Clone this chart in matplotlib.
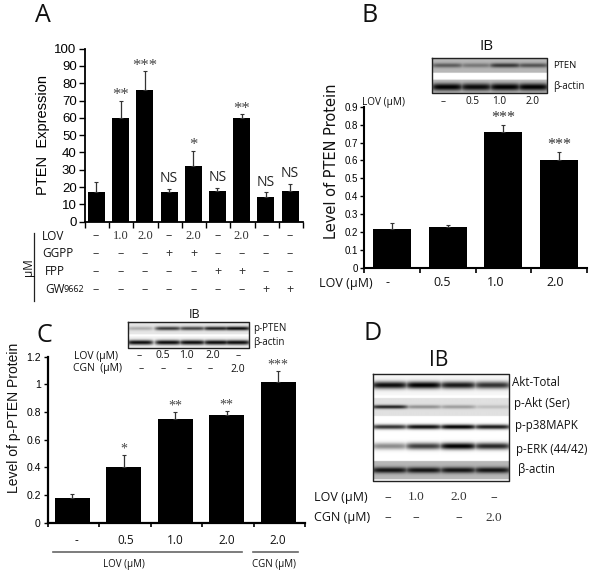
import numpy as np
import matplotlib
matplotlib.use("Agg")
import matplotlib.pyplot as plt

plt.rcParams['font.family'] = ['Liberation Sans', 'DejaVu Sans']
W, H = 601, 577

# ---- data ----
a_values = [17, 60, 76, 17, 32, 18, 60, 14, 18]
a_errors = [6, 10, 11, 2, 9, 1.5, 2, 3, 4]
a_marks = ['', '**', '***', 'NS', '*', 'NS', '**', 'NS', 'NS']
a_lov = ['–', '1.0', '2.0', '–', '2.0', '–', '2.0', '–', '–']
a_ggpp = ['–', '–', '–', '+', '+', '–', '–', '–', '–']
a_fpp = ['–', '–', '–', '–', '–', '+', '+', '–', '–']
a_gw = ['–', '–', '–', '–', '–', '–', '–', '+', '+']
a_ticks = list(range(0, 101, 10))

b_labels = ['-', '0.5', '1.0', '2.0']
b_values = [0.22, 0.23, 0.76, 0.60]
b_errors = [0.03, 0.01, 0.04, 0.05]
b_marks = ['', '', '***', '***']
b_ticks = [0, .1, .2, .3, .4, .5, .6, .7, .8, .9]
b_ticklabels = ['0', '0.1', '0.2', '0.3', '0.4', '0.5', '0.6', '0.7', '0.8', '0.9']

c_labels = ['-', '0.5', '1.0', '2.0', '2.0']
c_values = [0.18, 0.40, 0.75, 0.78, 1.02]
c_errors = [0.03, 0.09, 0.05, 0.03, 0.08]
c_marks = ['', '*', '**', '**', '***']
c_ticks = [0, .2, .4, .6, .8, 1, 1.2]
c_ticklabels = ['0', '0.2', '0.4', '0.6', '0.8', '1', '1.2']

# blot band intensities per lane (0 none .. 1 black)
b_blot_pten = [0.50, 0.35, 0.70, 0.55]
b_blot_actin = [1.0, 0.95, 1.0, 1.0]
c_blot_pten = [0.25, 0.75, 0.70, 0.85, 0.95]
c_blot_actin = [0.95, 0.95, 0.95, 0.95, 0.95]
d_akt = [0.95, 1.0, 0.9, 0.8]
d_pakt = [0.85, 0.35, 0.3, 0.15]
d_p38 = [0.8, 0.95, 1.0, 0.9]
d_erk = [0.45, 0.75, 1.0, 0.85]
d_actin = [0.9, 0.9, 0.9, 0.9]


def fig_ax(l, r, top, bottom):
    return fig.add_axes([l / W, 1 - bottom / H, (r - l) / W, (bottom - top) / H])


def style(ax, lw=1.5):
    for s in ('top', 'right'):
        ax.spines[s].set_visible(False)
    for s in ('left', 'bottom'):
        ax.spines[s].set_linewidth(lw)
    ax.patch.set_alpha(0)


def blot(box, rows, lanes, base=1.0):
    """rows: (centre, sigma, lane values, local background)"""
    l, r, t, b = box
    h, w = int(b - t) * 3, int(r - l) * 3
    img = np.full((h, w), base)
    yy, xx = np.mgrid[0:h, 0:w]
    xf = xx / w
    yp = yy / 3 + t
    n = len(lanes)
    for cy, sig, vals, bg, span in rows:
        inside = np.abs(yp - cy) <= span
        img[inside] = bg
        lane = np.zeros_like(xf)
        for i, v in enumerate(vals):
            lane = np.maximum(lane, v * np.exp(-((xf - lanes[i]) / (0.55 / n)) ** 6))
        img -= lane * np.exp(-((yp - cy) / sig) ** 2) * bg
    ov.imshow(np.clip(img, 0, 1), cmap='gray', vmin=0, vmax=1, extent=(l, r, b, t),
              aspect='auto', interpolation='bilinear', zorder=2)
    ov.plot([l, r, r, l, l], [t, t, b, b, t], color='#222222', lw=1.0, zorder=3)


fig = plt.figure(figsize=(W / 100, H / 100), dpi=100, facecolor='white')
ov = fig.add_axes([0, 0, 1, 1], zorder=5)
ov.set_xlim(0, W)
ov.set_ylim(H, 0)
ov.axis('off')
ov.patch.set_alpha(0)


def T(x, y, s, size=8, ha='center', rot=0, fam=None, color='#111111', va='center'):
    kw = {'family': fam} if fam else {}
    ov.text(x, y, s, fontsize=size, ha=ha, va=va, rotation=rot, color=color, **kw)


MY = ['Open Sans', 'DejaVu Sans']
SER = ['Liberation Serif', 'DejaVu Serif']

for x, y, s in [(43, 16, 'A'), (370, 16, 'B'), (44, 335, 'C'), (373, 334, 'D')]:
    T(x, y, s, 18, fam=MY)

# ---- panel A ----
axA = fig_ax(85, 303, 48.7, 221.7)
style(axA, 1.3)
xa = np.arange(len(a_values))
axA.bar(xa, a_values, width=0.7, color='black')
axA.errorbar(xa, a_values, yerr=[np.zeros(len(a_errors)), a_errors], fmt='none',
             ecolor='#333333', elinewidth=0.9, capsize=1.5, capthick=0.8)
axA.set_xlim(-0.47, 8.47)
axA.set_ylim(0, 100)
axA.set_yticks(a_ticks)
axA.tick_params(axis='y', labelsize=9.5, length=4, width=1, pad=2)
axA.set_xticks(np.arange(-0.47, 8.6, 1.0))
axA.set_xticklabels([])
axA.tick_params(axis='x', length=4, width=1, direction='out')
axA.set_ylabel('PTEN  Expression', fontsize=10.5, labelpad=3)
for i, m in enumerate(a_marks):
    top = a_values[i] + a_errors[i]
    if m == 'NS':
        axA.text(i, top + 1.5, m, ha='center', va='bottom', fontsize=10, family=MY, color='#222222')
    elif m:
        axA.text(i, top - 1.5, m, ha='center', va='bottom', fontsize=12, family=SER, color='#444444')

col_x = [96, 120.5, 145, 169, 193.5, 217.5, 241.5, 266, 290]
for y, name, vals, nx in [(236, 'LOV', a_lov, 42), (253.5, 'GGPP', a_ggpp, 42),
                          (271.5, 'FPP', a_fpp, 45), (289.5, 'GW', a_gw, 45)]:
    T(nx, y, name, 8.5, ha='left', fam=MY)
    for x, v in zip(col_x, vals):
        T(x, y, v, 9, fam=SER if v[0].isdigit() else MY, color='#333333')
T(63.5, 289.8, '9662', 6.5, ha='left', fam=MY)
T(28, 267, 'µM', 8.5, rot=90, fam=MY)
ov.plot([34, 34], [233, 301], color='#222222', lw=0.9)

# ---- panel B ----
axB = fig_ax(364.3, 586.7, 106.7, 268)
style(axB, 1.5)
xb = np.arange(len(b_values))
axB.bar(xb, b_values, width=0.68, color='black')
axB.errorbar(xb, b_values, yerr=[np.zeros(4), b_errors], fmt='none', ecolor='#333333',
             elinewidth=0.9, capsize=1.5, capthick=0.8)
axB.set_xlim(-0.5, 3.5)
axB.set_ylim(0, 0.9)
axB.set_yticks(b_ticks)
axB.set_yticklabels(b_ticklabels)
axB.tick_params(axis='y', labelsize=7, length=3, width=1, pad=1.5)
axB.set_xticks(np.arange(-0.5, 3.6, 1))
axB.set_xticklabels([])
axB.tick_params(axis='x', length=3.5, width=1.2)
T(331.5, 161, 'Level of PTEN Protein', 10.5, rot=90, fam=['DejaVu Sans'])
for i, m in enumerate(b_marks):
    if m:
        axB.text(i, b_values[i] + b_errors[i] - 0.01, m, ha='center', va='bottom', fontsize=11.5,
                 family=SER, color='#333333')
T(346, 283, 'LOV (µM)', 9, fam=MY)
for x, s in zip([387.5, 442.5, 496, 555], b_labels):
    T(x, 283, s, 9, fam=MY)

blot((431.7, 546.7, 58, 92.7),
     [(65, 2.2, b_blot_pten, 0.72, 7), (86, 3.6, b_blot_actin, 0.75, 7)],
     [0.13, 0.38, 0.63, 0.87])
T(487, 47, 'IB', 11, fam=MY)
T(553.5, 66, 'PTEN', 6.8, ha='left', fam=MY)
T(553.5, 86, 'β-actin', 7, ha='left', fam=MY)
T(383, 102, 'LOV (µM)', 7.2, fam=MY)
for x, s in zip([443.5, 472, 499, 533], ['–', '0.5', '1.0', '2.0']):
    T(x, 102, s, 7.2, fam=MY)

# ---- panel C ----
axC = fig_ax(47.7, 305, 356.7, 522.7)
style(axC, 1.6)
xc = np.arange(len(c_values))
axC.bar(xc, c_values, width=0.68, color='black')
axC.errorbar(xc, c_values, yerr=[np.zeros(5), c_errors], fmt='none', ecolor='#333333',
             elinewidth=0.9, capsize=1.5, capthick=0.8)
axC.set_xlim(-0.48, 4.52)
axC.set_ylim(0, 1.2)
axC.set_yticks(c_ticks)
axC.set_yticklabels(c_ticklabels)
axC.tick_params(axis='y', labelsize=7.5, length=3, width=1, pad=2)
axC.set_xticks(np.arange(-0.48, 4.6, 1))
axC.set_xticklabels([])
axC.tick_params(axis='x', length=3, width=1.2)
T(14, 418, 'Level of p-PTEN Protein', 10, rot=90)
for i, m in enumerate(c_marks):
    axC.text(i, c_values[i] + c_errors[i] - 0.005, m, ha='center', va='bottom', fontsize=10,
             family=SER, color='#444444')
for x, s in zip([76, 126, 175, 227, 278], c_labels):
    T(x, 541, s, 8.5, fam=MY)
ov.plot([53, 242], [552, 552], color='#666666', lw=1.2)
ov.plot([253, 298], [552, 552], color='#666666', lw=1.2)
T(124, 565, 'LOV (µM)', 7, fam=MY)
T(274, 565, 'CGN (µM)', 7, fam=MY)

blot((128, 249, 321.7, 347.7),
     [(328, 1.9, c_blot_pten, 0.9, 6), (342, 2.4, c_blot_actin, 0.95, 6)],
     [0.1, 0.33, 0.53, 0.73, 0.9])
T(195, 314, 'IB', 9, fam=MY)
T(253, 328, 'p-PTEN', 7, ha='left', fam=MY)
T(253, 342, 'β-actin', 7, ha='left', fam=MY)
T(74, 356, 'LOV (µM)', 7.5, ha='left', fam=MY)
T(73, 369, 'CGN  (µM)', 7.5, ha='left', fam=MY)
for x, a, b in zip([139, 163, 186, 213, 238], ['–', '0.5', '1.0', '2.0', '–'], ['–', '–', '–', '–', '2.0']):
    T(x, 356, a, 7.5, fam=MY)
for x, b in zip([141, 163, 189, 210, 238], ['–', '–', '–', '–', '2.0']):
    T(x, 369, b, 7.5, fam=MY)

# ---- panel D ----
blot((372.7, 509, 374, 481),
     [(385, 3.6, d_akt, 0.97, 10), (406.7, 1.9, d_pakt, 0.88, 9), (426.7, 2.4, d_p38, 1.0, 8),
      (446, 3.4, d_erk, 1.0, 9), (470, 3.0, d_actin, 0.72, 9)],
     [0.12, 0.37, 0.62, 0.87])
T(438.5, 360, 'IB', 15, fam=MY)
for x, y, s in [(512.5, 382, 'Akt-Total'), (514, 404, 'p-Akt (Ser)'), (514.5, 425, 'p-p38MAPK'),
                (515.5, 449, 'p-ERK (44/42)'), (518, 470, 'β-actin')]:
    T(x, y, s, 8.3, ha='left', fam=MY)
T(314, 497.5, 'LOV (µM)', 9, ha='left', fam=MY)
T(314, 518, 'CGN (µM)', 9, ha='left', fam=MY)
for x, s in zip([388, 416, 459, 494], ['–', '1.0', '2.0', '–']):
    T(x, 497.5, s, 9.5, fam=SER if s[0].isdigit() else MY, color='#333333')
for x, s in zip([388, 416, 459, 494], ['–', '–', '–', '2.0']):
    T(x, 518, s, 9.5, fam=SER if s[0].isdigit() else MY, color='#333333')

fig.savefig('out.png', dpi=100, facecolor='white')
